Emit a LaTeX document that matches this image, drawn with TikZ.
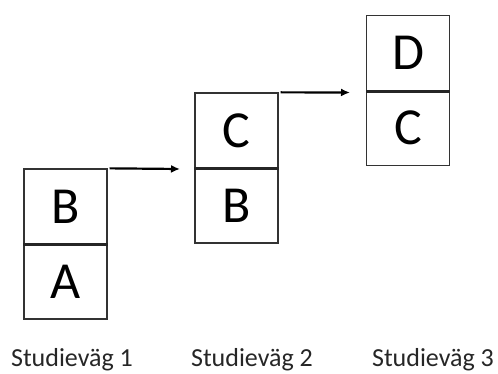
\documentclass[tikz,border=0pt]{standalone}
\usepackage{fontspec}
\setmainfont{Carlito}
\usetikzlibrary{arrows.meta}
\tikzset{
  cell/.style={draw=black!80, line width=1.3pt, minimum width=83pt, minimum height=75pt, inner sep=0pt, font=\fontsize{52}{52}\selectfont, text=black},
  divider/.style={line width=3pt, black!85},
  conn/.style={line width=2.2pt, -{Latex[length=9pt,width=8pt]}},
  lbl/.style={font=\fontsize{26}{26}\selectfont, text=black!85, anchor=base}
}
\begin{document}
\begin{tikzpicture}[x=1pt,y=-1pt]
\useasboundingbox (0,0) rectangle (498,374);
% column 1
\node[cell] (b1) at (65.5,206.5) {B};
\node[cell] (a1) at (65.5,281.5) {A};
% column 2
\node[cell] (c2) at (236.5,130.5) {C};
\node[cell] (b2) at (236.5,205.5) {B};
% column 3
\node[cell] (d3) at (408,53) {D};
\node[cell] (c3) at (408,128) {C};
% dividers
\draw[divider] (b1.south west) -- (b1.south east);
\draw[divider] (c2.south west) -- (c2.south east);
\draw[divider] (d3.south west) -- (d3.south east);
% arrows
\coordinate (e1) at (180,169);
\coordinate (e2) at (350,92.5);
\draw[conn] (b1.north east) ++(2,0) -- (e1);
\draw[conn] (c2.north east) ++(2,0) -- (e2);
% labels
\node[lbl] (l1) at (72,366) {Studieväg 1};
\node[lbl] (l2) at (252,366) {Studieväg 2};
\node[lbl] (l3) at (433,366) {Studieväg 3};
\end{tikzpicture}
\end{document}
